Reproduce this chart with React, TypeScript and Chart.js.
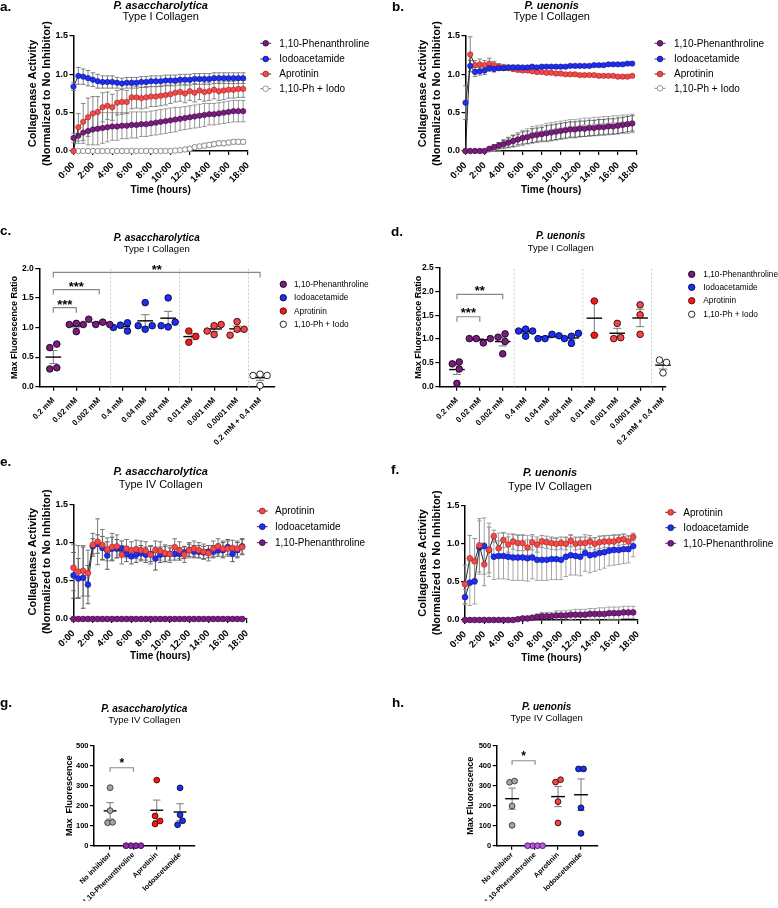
import React, { useEffect, useRef } from 'react';
import { Chart, registerables } from 'chart.js';

Chart.register(...registerables);

const FONT = '"Liberation Sans", Arial, Helvetica, sans-serif';

// ---------------- shared axis values ----------------
const timeHours = [0, 0.5, 1, 1.5, 2, 2.5, 3, 3.5, 4, 4.5, 5, 5.5, 6, 6.5, 7, 7.5, 8, 8.5, 9, 9.5, 10, 10.5, 11, 11.5, 12, 12.5, 13, 13.5, 14, 14.5, 15, 15.5, 16, 16.5, 17, 17.5];
const timeTicks = [0, 2, 4, 6, 8, 10, 12, 14, 16, 18];
const timeTickLabels = ['0:00', '2:00', '4:00', '6:00', '8:00', '10:00', '12:00', '14:00', '16:00', '18:00'];
const activityTicks = [0, 0.5, 1.0, 1.5];

// ---------------- panel a: P. asaccharolytica, type I ----------------
const aPhen = [0.17, 0.20, 0.24, 0.26, 0.28, 0.29, 0.30, 0.31, 0.32, 0.32, 0.33, 0.33,
  0.34, 0.34, 0.35, 0.35, 0.36, 0.37, 0.38, 0.39, 0.40, 0.41, 0.42, 0.43,
  0.44, 0.45, 0.46, 0.47, 0.48, 0.48, 0.49, 0.50, 0.51, 0.52, 0.52, 0.52];
const aPhenErr = [0.06, 0.10, 0.14, 0.18, 0.20, 0.21, 0.20, 0.19, 0.18, 0.18, 0.17, 0.17,
  0.17, 0.17, 0.16, 0.16, 0.16, 0.16, 0.16, 0.16, 0.16, 0.16, 0.15, 0.15,
  0.15, 0.15, 0.15, 0.15, 0.14, 0.14, 0.14, 0.14, 0.14, 0.14, 0.14, 0.14];
const aIodo = [0.84, 0.98, 0.97, 0.95, 0.93, 0.91, 0.90, 0.90, 0.90, 0.89, 0.88, 0.89,
  0.89, 0.89, 0.90, 0.90, 0.91, 0.91, 0.91, 0.92, 0.92, 0.92, 0.93, 0.93,
  0.93, 0.94, 0.94, 0.94, 0.94, 0.95, 0.95, 0.95, 0.95, 0.95, 0.95, 0.95];
const aIodoErr = [0.05, 0.11, 0.10, 0.10, 0.09, 0.09, 0.08, 0.08, 0.08, 0.07, 0.07, 0.07,
  0.07, 0.07, 0.07, 0.07, 0.07, 0.07, 0.07, 0.07, 0.07, 0.07, 0.07, 0.07,
  0.07, 0.07, 0.07, 0.07, 0.07, 0.07, 0.07, 0.07, 0.07, 0.07, 0.07, 0.07];
const aApro = [0.00, 0.31, 0.38, 0.44, 0.49, 0.51, 0.57, 0.59, 0.57, 0.63, 0.64, 0.64,
  0.70, 0.70, 0.69, 0.70, 0.71, 0.71, 0.72, 0.73, 0.74, 0.76, 0.77, 0.75,
  0.78, 0.76, 0.79, 0.77, 0.78, 0.80, 0.78, 0.79, 0.80, 0.80, 0.81, 0.81];
const aAproErr = [0.00, 0.18, 0.24, 0.25, 0.22, 0.20, 0.19, 0.18, 0.17, 0.16, 0.16, 0.15,
  0.15, 0.14, 0.14, 0.14, 0.13, 0.13, 0.13, 0.13, 0.12, 0.12, 0.12, 0.12,
  0.12, 0.12, 0.12, 0.12, 0.12, 0.12, 0.12, 0.12, 0.11, 0.11, 0.11, 0.11];
const aCombo = [0, 0, 0, 0, 0, 0, 0, 0, 0, 0, 0, 0,
  0, 0, 0, 0, 0, 0, 0, 0, 0, 0.005, 0.01, 0.02,
  0.03, 0.05, 0.06, 0.07, 0.08, 0.09, 0.10, 0.10, 0.11, 0.12, 0.12, 0.12];
const aComboErr = [0, 0, 0, 0, 0, 0, 0, 0, 0, 0, 0, 0,
  0, 0, 0, 0, 0, 0, 0, 0, 0, 0.01, 0.01, 0.01,
  0.02, 0.02, 0.02, 0.03, 0.03, 0.03, 0.03, 0.03, 0.03, 0.03, 0.03, 0.03];

// ---------------- panel b: P. uenonis, type I ----------------
const bPhen = [0, 0, 0, 0, 0, 0.03, 0.05, 0.07, 0.09, 0.11, 0.13, 0.15,
  0.17, 0.18, 0.20, 0.21, 0.22, 0.23, 0.24, 0.25, 0.26, 0.27, 0.28, 0.28,
  0.29, 0.29, 0.30, 0.30, 0.31, 0.31, 0.32, 0.32, 0.33, 0.34, 0.35, 0.36];
const bPhenErr = [0, 0, 0, 0, 0, 0.02, 0.03, 0.04, 0.05, 0.06, 0.07, 0.07,
  0.08, 0.08, 0.09, 0.09, 0.09, 0.10, 0.10, 0.10, 0.10, 0.10, 0.10, 0.10,
  0.10, 0.10, 0.10, 0.10, 0.10, 0.10, 0.10, 0.10, 0.10, 0.10, 0.10, 0.10];
const bCombo = [0, 0, 0, 0, 0, 0.02, 0.04, 0.06, 0.09, 0.11, 0.13, 0.15,
  0.17, 0.19, 0.21, 0.22, 0.23, 0.24, 0.25, 0.26, 0.27, 0.28, 0.29, 0.29,
  0.30, 0.31, 0.31, 0.32, 0.32, 0.33, 0.33, 0.34, 0.34, 0.35, 0.35, 0.36];
const bComboErr = [0, 0, 0, 0, 0, 0.02, 0.04, 0.05, 0.06, 0.07, 0.08, 0.09,
  0.10, 0.10, 0.11, 0.11, 0.11, 0.12, 0.12, 0.12, 0.12, 0.12, 0.12, 0.12,
  0.12, 0.12, 0.12, 0.12, 0.12, 0.12, 0.12, 0.12, 0.12, 0.12, 0.12, 0.12];
const bIodo = [0.63, 1.11, 1.03, 1.04, 1.05, 1.08, 1.07, 1.08, 1.08, 1.09, 1.09, 1.09,
  1.09, 1.09, 1.10, 1.09, 1.10, 1.10, 1.10, 1.10, 1.10, 1.10, 1.11, 1.11,
  1.11, 1.11, 1.11, 1.12, 1.12, 1.12, 1.13, 1.13, 1.13, 1.13, 1.14, 1.14];
const bIodoErr = [0.22, 0.07, 0.06, 0.05, 0.05, 0.04, 0.04, 0.03, 0.03, 0.03, 0.03, 0.03,
  0.02, 0.02, 0.02, 0.02, 0.02, 0.02, 0.02, 0.02, 0.02, 0.02, 0.02, 0.02,
  0.02, 0.02, 0.02, 0.02, 0.02, 0.02, 0.02, 0.02, 0.02, 0.02, 0.02, 0.02];
const bApro = [0.00, 1.26, 1.12, 1.13, 1.12, 1.14, 1.12, 1.10, 1.09, 1.08, 1.07, 1.06,
  1.05, 1.05, 1.04, 1.03, 1.03, 1.02, 1.02, 1.01, 1.01, 1.00, 1.00, 1.00,
  0.99, 0.99, 0.99, 0.99, 0.98, 0.98, 0.98, 0.98, 0.97, 0.97, 0.97, 0.98];
const bAproErr = [0.00, 0.23, 0.06, 0.07, 0.06, 0.07, 0.05, 0.04, 0.04, 0.03, 0.03, 0.03,
  0.02, 0.02, 0.02, 0.02, 0.02, 0.02, 0.02, 0.02, 0.02, 0.02, 0.02, 0.02,
  0.02, 0.02, 0.02, 0.02, 0.02, 0.02, 0.02, 0.02, 0.02, 0.02, 0.02, 0.02];

// ---------------- panel e: P. asaccharolytica, type IV ----------------
const eApro = [0.67, 0.62, 0.63, 0.60, 0.97, 1.01, 0.97, 0.91, 0.94, 0.95, 0.84, 0.92,
  0.90, 0.91, 0.90, 0.89, 0.84, 0.90, 0.89, 0.86, 0.85, 0.94, 0.90, 0.84,
  0.90, 0.92, 0.90, 0.88, 0.86, 0.92, 0.95, 0.92, 0.92, 0.93, 0.92, 0.94];
const eAproErr = [0.30, 0.34, 0.33, 0.30, 0.15, 0.30, 0.20, 0.15, 0.18, 0.15, 0.12, 0.12,
  0.11, 0.12, 0.12, 0.12, 0.12, 0.12, 0.12, 0.11, 0.11, 0.11, 0.11, 0.10,
  0.10, 0.10, 0.10, 0.10, 0.10, 0.10, 0.10, 0.10, 0.10, 0.10, 0.10, 0.10];
const eIodo = [0.57, 0.53, 0.54, 0.45, 0.95, 0.98, 0.93, 0.83, 0.92, 0.92, 0.92, 0.85,
  0.82, 0.84, 0.86, 0.84, 0.85, 0.79, 0.84, 0.85, 0.85, 0.85, 0.85, 0.87,
  0.90, 0.88, 0.88, 0.87, 0.88, 0.88, 0.90, 0.90, 0.94, 0.85, 0.90, 0.95];
const eIodoErr = [0.30, 0.26, 0.40, 0.25, 0.10, 0.12, 0.15, 0.18, 0.15, 0.12, 0.10, 0.10,
  0.10, 0.10, 0.10, 0.10, 0.10, 0.15, 0.10, 0.10, 0.08, 0.08, 0.08, 0.08,
  0.08, 0.08, 0.08, 0.08, 0.08, 0.08, 0.08, 0.10, 0.10, 0.10, 0.10, 0.10];
const ePhen = [0, 0, 0, 0, 0, 0, 0, 0, 0, 0, 0, 0,
  0, 0, 0, 0, 0, 0, 0, 0, 0, 0, 0, 0,
  0, 0, 0, 0, 0, 0, 0, 0, 0, 0, 0, 0];
const ePhenErr = [0, 0, 0, 0, 0, 0, 0, 0, 0, 0, 0, 0,
  0, 0, 0, 0, 0, 0, 0, 0, 0, 0, 0, 0,
  0, 0, 0, 0, 0, 0, 0, 0, 0, 0, 0, 0];

// ---------------- panel f: P. uenonis, type IV ----------------
const fApro = [0.47, 0.81, 0.77, 0.98, 0.73, 0.92, 1.10, 0.94, 1.05, 0.99, 1.03, 1.01,
  1.01, 0.95, 1.02, 0.99, 1.03, 1.02, 1.01, 1.00, 1.01, 1.00, 1.04, 1.00,
  1.01, 1.01, 1.03, 1.00, 1.02, 1.03, 1.03, 1.03, 1.05, 1.06, 1.03, 1.09];
const fAproErr = [0.25, 0.30, 0.30, 0.35, 0.28, 0.30, 0.08, 0.10, 0.10, 0.10, 0.10, 0.10,
  0.10, 0.10, 0.10, 0.10, 0.08, 0.08, 0.08, 0.08, 0.08, 0.08, 0.08, 0.08,
  0.08, 0.08, 0.08, 0.08, 0.08, 0.08, 0.08, 0.08, 0.07, 0.07, 0.07, 0.05];
const fIodo = [0.30, 0.49, 0.51, 0.95, 0.97, 0.92, 0.83, 0.84, 0.84, 0.83, 0.82, 0.82,
  0.82, 0.81, 0.82, 0.79, 0.79, 0.79, 0.80, 0.80, 0.79, 0.83, 0.85, 0.84,
  0.83, 0.88, 0.85, 0.86, 0.88, 0.89, 0.91, 0.92, 0.92, 0.93, 0.93, 0.97];
const fIodoErr = [0.10, 0.30, 0.30, 0.35, 0.37, 0.35, 0.30, 0.30, 0.30, 0.30, 0.30, 0.30,
  0.30, 0.30, 0.28, 0.27, 0.27, 0.27, 0.27, 0.27, 0.26, 0.26, 0.26, 0.25,
  0.25, 0.24, 0.23, 0.22, 0.22, 0.21, 0.20, 0.20, 0.19, 0.19, 0.18, 0.14];
const fPhen = [0, 0, 0, 0, 0, 0, 0, 0, 0, 0, 0, 0.01,
  0.02, 0.02, 0.03, 0.04, 0.05, 0.05, 0.05, 0.06, 0.06, 0.06, 0.07, 0.07,
  0.07, 0.07, 0.08, 0.08, 0.08, 0.08, 0.09, 0.09, 0.09, 0.10, 0.10, 0.10];
const fPhenErr = [0, 0, 0, 0, 0, 0, 0, 0, 0, 0, 0, 0.01,
  0.02, 0.03, 0.03, 0.04, 0.05, 0.05, 0.05, 0.06, 0.06, 0.06, 0.06, 0.07,
  0.07, 0.07, 0.07, 0.07, 0.08, 0.08, 0.08, 0.08, 0.08, 0.08, 0.08, 0.08];

// ---------------- panels c / d: max fluorescence ratio ----------------
const doseLabels = ['0.2 mM', '0.02 mM', '0.002 mM', '0.4 mM', '0.04 mM', '0.004 mM', '0.01 mM', '0.001 mM', '0.0001 mM', '0.2 mM + 0.4 mM'];
const ratioTicksC = [0, 0.5, 1.0, 1.5, 2.0];
const ratioTicksD = [0, 0.5, 1.0, 1.5, 2.0, 2.5];
const cRatios = [
  [0.66, 0.72, 0.30, 0.32],
  [1.07, 1.05, 0.93, 1.05],
  [1.05, 1.09, 1.14, 1.05],
  [1.04, 1.08, 0.94, 1.00],
  [1.42, 0.97, 1.03, 1.03],
  [1.50, 1.01, 1.09, 1.03],
  [0.94, 0.85, 0.75],
  [1.03, 1.05, 0.88, 0.94],
  [1.10, 0.97, 0.97, 0.87],
  [0.21, 0.19, 0.19, 0.02],
];
const dRatios = [
  [0.48, 0.52, 0.37, 0.07],
  [1.01, 0.92, 1.01, 1.01],
  [1.04, 1.11, 0.95, 0.69],
  [1.21, 1.06, 1.17, 1.17],
  [1.01, 1.10, 1.01, 1.07],
  [1.06, 0.91, 1.12, 1.01],
  [1.80, 1.08],
  [1.33, 1.01, 1.03],
  [1.72, 1.51, 1.10],
  [0.56, 0.51, 0.29],
];
const doseSeparators = [2.5, 5.5, 8.5];
const cBrackets = [
  { from: 0, to: 1, level: 1.335, label: '***' },
  { from: 0, to: 2, level: 1.64, label: '***' },
  { from: 0, to: 9, level: 1.93, label: '**' },
];
const dBrackets = [
  { from: 0, to: 1, level: 1.47, label: '***' },
  { from: 0, to: 2, level: 1.94, label: '**' },
];

// ---------------- panels g / h: max fluorescence ----------------
const inhibitorLabels = ['No inhibitor', '1,10-Phenanthroline', 'Aprotinin', 'Iodoacetamide'];
const fluorTicks = [0, 100, 200, 300, 400, 500];
const gFluor = [
  [291, 176, 115, 117],
  [0, 0, 0, 0],
  [329, 149, 109, 124],
  [290, 155, 105, 125],
];
const hFluor = [
  [318, 324, 199, 102],
  [0, 0, 0, 0],
  [319, 331, 221, 114],
  [385, 385, 190, 62],
];
const gBrackets = [{ from: 0, to: 1, level: 391, label: '*' }];
const hBrackets = [{ from: 0, to: 1, level: 426, label: '*' }];

// ---------------- styles ----------------
const PURPLE = { fill: '#7A1D7E', edge: '#3f0a42' };
const BLUE = { fill: '#1F2EF2', edge: '#0c168a' };
const RED = { fill: '#F24A4A', edge: '#a82020' };
const RED_BRIGHT = { fill: '#EC1C1C', edge: '#5a0a0a' };
const OPEN_GREY = { fill: '#FFFFFF', edge: '#8c8c8c' };
const OPEN_BLACK = { fill: '#FFFFFF', edge: '#111111' };
const GREY = { fill: '#A6A6A6', edge: '#333333' };
const VIOLET = { fill: '#8E2CA6', edge: '#3a0a48' };
const LILAC = { fill: '#B75BDB', edge: '#4a1a5a' };
const DOT_PURPLE = { fill: '#7A1D7E', edge: '#1a001c' };
const DOT_BLUE = { fill: '#1F2EF2', edge: '#05083a' };
const DOT_RED = { fill: '#F04848', edge: '#3a0505' };

const LBL_PHEN = '1,10-Phenanthroline';
const LBL_IODO = 'Iodoacetamide';
const LBL_APRO = 'Aprotinin';
const LBL_COMBO = '1,10-Ph + Iodo';

// ---------------- helpers ----------------
function paddingFor(p: any) {
  return {
    left: p.area.l - p.rect.x - p.yScaleW,
    top: p.area.t - p.rect.y,
    right: p.rect.x + p.rect.w - p.area.r,
    bottom: p.rect.y + p.rect.h - p.area.b - p.xScaleH,
  };
}

function axisStyle(tickSize: number) {
  return {
    border: { display: true, color: '#000', width: 1.5 },
    grid: { display: true, drawOnChartArea: false, drawTicks: true, tickLength: 4, color: '#000', lineWidth: 1.2 },
    ticksBase: { color: '#000', font: { family: FONT, size: tickSize, weight: 'bold' }, padding: 1.5 },
  };
}

function drawDecor(ctx: any, p: any) {
  const ox = p.rect.x;
  const oy = p.rect.y;
  ctx.save();
  ctx.fillStyle = '#000';
  ctx.textAlign = 'left';
  ctx.textBaseline = 'alphabetic';
  ctx.font = `bold 13.5px ${FONT}`;
  ctx.fillText(p.letter, p.letterPos[0] - ox, p.letterPos[1] - oy);

  ctx.textAlign = 'center';
  ctx.textBaseline = 'middle';
  ctx.font = `italic bold ${p.titleSize[0]}px ${FONT}`;
  ctx.fillText(p.title[0], p.titlePos.x - ox, p.titlePos.y1 - oy);
  ctx.font = `${p.titleSize[1]}px ${FONT}`;
  ctx.fillText(p.title[1], p.titlePos.x - ox, p.titlePos.y2 - oy);

  const L = p.legend;
  if (L) {
    L.items.forEach((it: any, k: number) => {
      const y = L.ys[k] - oy;
      const mx = L.markerX - ox;
      if (L.withLine) {
        ctx.strokeStyle = it.line || '#3a3a3a';
        ctx.lineWidth = 1;
        ctx.beginPath();
        ctx.moveTo(mx - 5.5, y);
        ctx.lineTo(mx + 5.5, y);
        ctx.stroke();
      }
      ctx.beginPath();
      ctx.arc(mx, y, L.r, 0, Math.PI * 2);
      ctx.fillStyle = it.style.fill;
      ctx.fill();
      ctx.lineWidth = 0.9;
      ctx.strokeStyle = it.style.edge;
      ctx.stroke();
      ctx.fillStyle = '#000';
      ctx.font = `${L.size}px ${FONT}`;
      ctx.textAlign = 'left';
      ctx.textBaseline = 'middle';
      ctx.fillText(it.label, L.textX - ox, y + 0.5);
    });
  }
  ctx.restore();
}

function swarmOffsets(vals: number[], pxPerUnit: number, step: number): number[] {
  const ys = vals.map((v) => v * pxPerUnit);
  const xs: number[] = [];
  ys.forEach((y) => {
    const cands = [0];
    for (let k = 1; k <= 6; k++) cands.push(k * step, -k * step);
    const pick = cands.find((c) => xs.every((x, q) => Math.hypot(x - c, ys[q] - y) >= step - 1e-6));
    xs.push(pick === undefined ? 0 : pick);
  });
  const order = ys.map((_, j) => j).sort((a, b) => ys[a] - ys[b]);
  let cluster: number[] = [];
  const flush = () => {
    if (!cluster.length) return;
    const m = cluster.reduce((s, j) => s + xs[j], 0) / cluster.length;
    cluster.forEach((j) => { xs[j] -= m; });
    cluster = [];
  };
  order.forEach((j, k) => {
    if (k > 0 && ys[j] - ys[order[k - 1]] >= step) flush();
    cluster.push(j);
  });
  flush();
  return xs;
}

function meanSem(vals: number[]) {
  const n = vals.length;
  const m = vals.reduce((a, b) => a + b, 0) / n;
  const sd = n > 1 ? Math.sqrt(vals.reduce((a, b) => a + (b - m) * (b - m), 0) / (n - 1)) : 0;
  return [m, sd / Math.sqrt(n)];
}

// ---------------- line panel builder ----------------
function buildLine(p: any) {
  const ax = axisStyle(p.xTickSize);
  const ay = axisStyle(p.yTickSize);
  const datasets = p.series.map((s: any) => ({
    label: s.label,
    data: timeHours.map((t, j) => ({ x: t, y: s.values[j] })),
    showLine: true,
    borderColor: s.line || '#2a2a2a',
    borderWidth: 1,
    pointRadius: p.pointR,
    pointBackgroundColor: s.style.fill,
    pointBorderColor: s.style.edge,
    pointBorderWidth: s.style.fill === '#FFFFFF' ? 1 : 0.6,
    clip: false,
    tension: 0,
  }));
  const errPlugin = {
    id: 'errbars' + p.key,
    beforeDatasetsDraw(chart: any) {
      const ctx = chart.ctx;
      const ys = chart.scales.y;
      const y0 = ys.getPixelForValue(0);
      ctx.save();
      for (let i = p.series.length - 1; i >= 0; i--) {
        const s = p.series[i];
        const meta = chart.getDatasetMeta(i);
        ctx.strokeStyle = s.errColor || '#777';
        ctx.lineWidth = 0.9;
        meta.data.forEach((pt: any, j: number) => {
          const e = s.errors[j];
          if (!e) return;
          const v = s.values[j];
          const top = ys.getPixelForValue(v + e);
          const bot = Math.min(ys.getPixelForValue(v - e), y0);
          const x = pt.x;
          ctx.beginPath();
          ctx.moveTo(x, top);
          ctx.lineTo(x, bot);
          ctx.moveTo(x - 2.3, top);
          ctx.lineTo(x + 2.3, top);
          if (bot < y0) {
            ctx.moveTo(x - 2.3, bot);
            ctx.lineTo(x + 2.3, bot);
          }
          ctx.stroke();
        });
      }
      ctx.restore();
    },
  };
  const decor = { id: 'decor' + p.key, afterDraw(chart: any) { drawDecor(chart.ctx, p); } };
  return {
    type: 'scatter',
    data: { datasets },
    options: {
      responsive: false,
      maintainAspectRatio: false,
      animation: false,
      devicePixelRatio: 1,
      events: [],
      layout: { padding: paddingFor(p) },
      plugins: { legend: { display: false }, tooltip: { enabled: false }, title: { display: false } },
      scales: {
        x: {
          type: 'linear',
          min: 0,
          max: 18,
          border: ax.border,
          grid: ax.grid,
          afterBuildTicks: (sc: any) => { sc.ticks = timeTicks.map((v) => ({ value: v })); },
          afterFit: (sc: any) => { sc.height = p.xScaleH; },
          ticks: { ...ax.ticksBase, padding: 5, autoSkip: false, minRotation: 45, maxRotation: 45, callback: (_v: any, i: number) => timeTickLabels[i] },
          title: { display: true, text: 'Time (hours)', color: '#000', padding: 0, font: { family: FONT, size: 10, weight: 'bold', lineHeight: 1.2 } },
        },
        y: {
          type: 'linear',
          min: 0,
          max: 1.5,
          border: ay.border,
          grid: ay.grid,
          afterBuildTicks: (sc: any) => { sc.ticks = activityTicks.map((v) => ({ value: v })); },
          afterFit: (sc: any) => { sc.width = p.yScaleW; },
          ticks: { ...ay.ticksBase, callback: (v: any) => Number(v).toFixed(1) },
          title: { display: true, text: ['Collagenase Activity', '(Normalized to No Inhibitor)'], color: '#000', padding: 0, font: { family: FONT, size: 11, weight: 'bold', lineHeight: 1.2 } },
        },
      },
    },
    plugins: [errPlugin, decor],
  };
}

// ---------------- dot panel builder ----------------
function buildDot(p: any) {
  const ax = axisStyle(p.xTickSize);
  const ay = axisStyle(p.yTickSize);
  const yMax = p.yTicks[p.yTicks.length - 1];
  const pxPerUnit = (p.area.b - p.area.t) / yMax;
  const catPx = (p.area.r - p.area.l) / (p.xMax - p.xMin);
  const datasets = p.groups.map((vals: number[], i: number) => {
    const offs = swarmOffsets(vals, pxPerUnit, p.step).map((o) => o / catPx);
    const st = p.styles[i];
    return {
      data: vals.map((v, j) => ({ x: i + offs[j], y: v })),
      showLine: false,
      pointRadius: p.pointR,
      pointBackgroundColor: st.fill,
      pointBorderColor: st.edge,
      pointBorderWidth: 0.9,
      clip: false,
    };
  });
  const statPlugin = {
    id: 'stats' + p.key,
    beforeDatasetsDraw(chart: any) {
      const ctx = chart.ctx;
      const xs = chart.scales.x;
      const ys = chart.scales.y;
      const area = chart.chartArea;
      ctx.save();
      (p.separators || []).forEach((s: number) => {
        const x = xs.getPixelForValue(s);
        ctx.strokeStyle = '#BDBDBD';
        ctx.lineWidth = 0.8;
        ctx.setLineDash([2, 2]);
        ctx.beginPath();
        ctx.moveTo(x, area.bottom);
        ctx.lineTo(x, area.top);
        ctx.stroke();
      });
      ctx.setLineDash([]);
      p.groups.forEach((vals: number[], i: number) => {
        const [m, se] = meanSem(vals);
        const ym = ys.getPixelForValue(m);
        const yt = ys.getPixelForValue(m + se);
        const yb = ys.getPixelForValue(m - se);
        const xc = xs.getPixelForValue(i);
        const half = (xs.getPixelForValue(i + p.meanW / 2) - xs.getPixelForValue(i - p.meanW / 2)) / 2;
        const cap = (xs.getPixelForValue(i + p.capW / 2) - xs.getPixelForValue(i - p.capW / 2)) / 2;
        if (se > 0) {
          ctx.strokeStyle = '#7a7a7a';
          ctx.lineWidth = 1;
          ctx.beginPath();
          ctx.moveTo(xc, yt);
          ctx.lineTo(xc, yb);
          ctx.moveTo(xc - cap, yt);
          ctx.lineTo(xc + cap, yt);
          ctx.moveTo(xc - cap, yb);
          ctx.lineTo(xc + cap, yb);
          ctx.stroke();
        }
        ctx.strokeStyle = '#000';
        ctx.lineWidth = 1.4;
        ctx.beginPath();
        ctx.moveTo(xc - half, ym);
        ctx.lineTo(xc + half, ym);
        ctx.stroke();
      });
      ctx.restore();
    },
    afterDatasetsDraw(chart: any) {
      const ctx = chart.ctx;
      const xs = chart.scales.x;
      const ys = chart.scales.y;
      ctx.save();
      p.brackets.forEach((b: any) => {
        const x1 = xs.getPixelForValue(b.from);
        const x2 = xs.getPixelForValue(b.to);
        const y = ys.getPixelForValue(b.level);
        ctx.strokeStyle = '#8a8a8a';
        ctx.lineWidth = 1.2;
        ctx.beginPath();
        ctx.moveTo(x1, y + p.bracketTick);
        ctx.lineTo(x1, y);
        ctx.lineTo(x2, y);
        ctx.lineTo(x2, y + p.bracketTick);
        ctx.stroke();
        ctx.fillStyle = '#000';
        ctx.font = `bold ${p.starSize}px ${FONT}`;
        ctx.textAlign = 'center';
        ctx.textBaseline = 'alphabetic';
        ctx.fillText(b.label, (x1 + x2) / 2, y + p.starDy);
      });
      ctx.restore();
    },
  };
  const decor = { id: 'decor' + p.key, afterDraw(chart: any) { drawDecor(chart.ctx, p); } };
  return {
    type: 'scatter',
    data: { datasets },
    options: {
      responsive: false,
      maintainAspectRatio: false,
      animation: false,
      devicePixelRatio: 1,
      events: [],
      layout: { padding: paddingFor(p) },
      plugins: { legend: { display: false }, tooltip: { enabled: false }, title: { display: false } },
      scales: {
        x: {
          type: 'linear',
          min: p.xMin,
          max: p.xMax,
          border: ax.border,
          grid: ax.grid,
          afterBuildTicks: (sc: any) => { sc.ticks = p.cats.map((_c: string, i: number) => ({ value: i })); },
          afterFit: (sc: any) => { sc.height = p.xScaleH; },
          ticks: { ...ax.ticksBase, padding: p.xTickPad, autoSkip: false, minRotation: 45, maxRotation: 45, callback: (_v: any, i: number) => p.cats[i] },
        },
        y: {
          type: 'linear',
          min: 0,
          max: yMax,
          border: ay.border,
          grid: ay.grid,
          afterBuildTicks: (sc: any) => { sc.ticks = p.yTicks.map((v: number) => ({ value: v })); },
          afterFit: (sc: any) => { sc.width = p.yScaleW; },
          ticks: { ...ay.ticksBase, callback: (v: any) => (yMax > 10 ? String(v) : Number(v).toFixed(1)) },
          title: { display: true, text: p.yTitle, color: '#000', padding: 0, font: { family: FONT, size: p.yTitleSize, weight: 'bold', lineHeight: 1.2 } },
        },
      },
    },
    plugins: [statPlugin, decor],
  };
}

// ---------------- panel specs ----------------
const lineLegend4 = [
  { label: LBL_PHEN, style: PURPLE },
  { label: LBL_IODO, style: BLUE },
  { label: LBL_APRO, style: RED },
  { label: LBL_COMBO, style: OPEN_GREY, line: '#8c8c8c' },
];
const lineLegend3 = [
  { label: LBL_APRO, style: RED },
  { label: LBL_IODO, style: BLUE },
  { label: LBL_PHEN, style: PURPLE },
];
const dotLegend = [
  { label: LBL_PHEN, style: DOT_PURPLE },
  { label: LBL_IODO, style: DOT_BLUE },
  { label: LBL_APRO, style: RED_BRIGHT },
  { label: LBL_COMBO, style: OPEN_BLACK },
];
const doseStyles = [DOT_PURPLE, DOT_PURPLE, DOT_PURPLE, DOT_BLUE, DOT_BLUE, DOT_BLUE, RED_BRIGHT, DOT_RED, DOT_RED, OPEN_BLACK];

const PANELS: any[] = [
  {
    key: 'a', kind: 'line', rect: { x: 0, y: 0, w: 390, h: 225 }, area: { l: 73.5, t: 36, r: 248, b: 151 },
    yScaleW: 46.8, xScaleH: 45, xTickSize: 9.5, yTickSize: 9, pointR: 2.7,
    letter: 'a.', letterPos: [0, 11], title: ['P. asaccharolytica', 'Type I Collagen'], titleSize: [11, 11], titlePos: { x: 160.7, y1: 5.5, y2: 17 },
    series: [
      { label: LBL_IODO, values: aIodo, errors: aIodoErr, style: BLUE, errColor: '#707070' },
      { label: LBL_APRO, values: aApro, errors: aAproErr, style: RED, errColor: '#7a7a7a' },
      { label: LBL_PHEN, values: aPhen, errors: aPhenErr, style: PURPLE, errColor: '#8a8a8a' },
      { label: LBL_COMBO, values: aCombo, errors: aComboErr, style: OPEN_GREY, errColor: '#9a9a9a', line: '#9a9a9a' },
    ],
    legend: { withLine: true, markerX: 265.7, textX: 279.3, ys: [43.3, 59, 74, 88.7], r: 2.8, size: 10, items: lineLegend4 },
  },
  {
    key: 'b', kind: 'line', rect: { x: 390, y: 0, w: 388, h: 225 }, area: { l: 465.5, t: 36, r: 637, b: 151 },
    yScaleW: 48.8, xScaleH: 45, xTickSize: 9.5, yTickSize: 9, pointR: 2.7,
    letter: 'b.', letterPos: [392, 11], title: ['P. uenonis', 'Type I Collagen'], titleSize: [11, 11], titlePos: { x: 551.7, y1: 5.5, y2: 17 },
    series: [
      { label: LBL_PHEN, values: bPhen, errors: bPhenErr, style: PURPLE, errColor: '#555555' },
      { label: LBL_IODO, values: bIodo, errors: bIodoErr, style: BLUE, errColor: '#707070' },
      { label: LBL_APRO, values: bApro, errors: bAproErr, style: RED, errColor: '#7a7a7a' },
      { label: LBL_COMBO, values: bCombo, errors: bComboErr, style: OPEN_GREY, errColor: '#a0a0a0', line: '#9a9a9a' },
    ],
    legend: { withLine: true, markerX: 660, textX: 674, ys: [43.3, 59, 74, 88.3], r: 2.8, size: 10, items: lineLegend4 },
  },
  {
    key: 'c', kind: 'dot', rect: { x: 0, y: 225, w: 390, h: 230 }, area: { l: 39.3, t: 268.3, r: 275, b: 386.7 },
    yScaleW: 29.7, xScaleH: 60, xTickSize: 8, xTickPad: 5, yTickSize: 8.5, pointR: 3.3, step: 7,
    xMin: -0.61, xMax: 9.65, yTicks: ratioTicksC, cats: doseLabels, groups: cRatios, styles: doseStyles,
    meanW: 0.68, capW: 0.36, separators: doseSeparators, brackets: cBrackets, bracketTick: 5, starSize: 13, starDy: 1.5,
    yTitle: 'Max Fluorescence Ratio', yTitleSize: 9,
    letter: 'c.', letterPos: [0, 235], title: ['P. asaccharolytica', 'Type I Collagen'], titleSize: [10, 9.5], titlePos: { x: 156.7, y1: 238.3, y2: 249.5 },
    legend: { withLine: false, markerX: 283.3, textX: 294, ys: [284.3, 297.7, 311, 324.3], r: 3.2, size: 8.3, items: dotLegend },
  },
  {
    key: 'd', kind: 'dot', rect: { x: 390, y: 225, w: 388, h: 230 }, area: { l: 439.3, t: 267.7, r: 666, b: 386.7 },
    yScaleW: 26.4, xScaleH: 60, xTickSize: 8, xTickPad: 5, yTickSize: 8.5, pointR: 3.3, step: 7,
    xMin: -0.77, xMax: 9.13, yTicks: ratioTicksD, cats: doseLabels, groups: dRatios, styles: doseStyles,
    meanW: 0.68, capW: 0.36, separators: doseSeparators, brackets: dBrackets, bracketTick: 5, starSize: 13, starDy: 0.5,
    yTitle: 'Max Fluorescence Ratio', yTitleSize: 9,
    letter: 'd.', letterPos: [391, 236], title: ['P. uenonis', 'Type I Collagen'], titleSize: [10, 9.5], titlePos: { x: 560.7, y1: 236.3, y2: 248.3 },
    legend: { withLine: false, markerX: 691.7, textX: 703.3, ys: [274.3, 287.3, 300.7, 314.3], r: 3.2, size: 8.3, items: dotLegend },
  },
  {
    key: 'e', kind: 'line', rect: { x: 0, y: 455, w: 390, h: 235 }, area: { l: 73.5, t: 504.3, r: 247, b: 619 },
    yScaleW: 46.8, xScaleH: 43.7, xTickSize: 9.5, yTickSize: 9, pointR: 2.9,
    letter: 'e.', letterPos: [0, 466], title: ['P. asaccharolytica', 'Type IV Collagen'], titleSize: [11, 11], titlePos: { x: 160.7, y1: 472.3, y2: 485 },
    series: [
      { label: LBL_APRO, values: eApro, errors: eAproErr, style: RED, errColor: '#6a6a6a' },
      { label: LBL_IODO, values: eIodo, errors: eIodoErr, style: BLUE, errColor: '#4a4a4a' },
      { label: LBL_PHEN, values: ePhen, errors: ePhenErr, style: PURPLE, errColor: '#555555' },
    ],
    legend: { withLine: true, markerX: 262.3, textX: 275, ys: [511, 526.7, 542.7], r: 2.9, size: 10, items: lineLegend3 },
  },
  {
    key: 'f', kind: 'line', rect: { x: 390, y: 455, w: 388, h: 235 }, area: { l: 465, t: 505.7, r: 638, b: 620 },
    yScaleW: 48.3, xScaleH: 44, xTickSize: 9.5, yTickSize: 9, pointR: 2.9,
    letter: 'f.', letterPos: [391, 474], title: ['P. uenonis', 'Type IV Collagen'], titleSize: [11, 11], titlePos: { x: 550, y1: 473.3, y2: 486.7 },
    series: [
      { label: LBL_APRO, values: fApro, errors: fAproErr, style: RED, errColor: '#8a8a8a' },
      { label: LBL_IODO, values: fIodo, errors: fIodoErr, style: BLUE, errColor: '#9a9a9a' },
      { label: LBL_PHEN, values: fPhen, errors: fPhenErr, style: PURPLE, errColor: '#9a9a9a' },
    ],
    legend: { withLine: true, markerX: 670.7, textX: 683.3, ys: [512.3, 527.7, 543.3], r: 2.9, size: 10, items: lineLegend3 },
  },
  {
    key: 'g', kind: 'dot', rect: { x: 0, y: 690, w: 390, h: 218 }, area: { l: 94, t: 746, r: 195, b: 845.7 },
    yScaleW: 30.1, xScaleH: 55, xTickSize: 7.3, xTickPad: 1, yTickSize: 7.5, pointR: 2.9, step: 5,
    xMin: -0.69, xMax: 3.64, yTicks: fluorTicks, cats: inhibitorLabels, groups: gFluor, styles: [GREY, VIOLET, { fill: '#FF1212', edge: '#4a0000' }, DOT_BLUE],
    meanW: 0.55, capW: 0.32, separators: [], brackets: gBrackets, bracketTick: 4, starSize: 12, starDy: -0.5,
    yTitle: 'Max  Fluorescence', yTitleSize: 9,
    letter: 'g.', letterPos: [0, 707], title: ['P. asaccharolytica', 'Type IV Collagen'], titleSize: [10, 9.5], titlePos: { x: 144.3, y1: 709, y2: 720 },
    legend: null,
  },
  {
    key: 'h', kind: 'dot', rect: { x: 390, y: 690, w: 388, h: 218 }, area: { l: 496.7, t: 746, r: 598, b: 845.7 },
    yScaleW: 31.1, xScaleH: 55, xTickSize: 7.3, xTickPad: 1, yTickSize: 7.5, pointR: 2.9, step: 5,
    xMin: -0.67, xMax: 3.74, yTicks: fluorTicks, cats: inhibitorLabels, groups: hFluor, styles: [GREY, LILAC, DOT_RED, DOT_BLUE],
    meanW: 0.6, capW: 0.32, separators: [], brackets: hBrackets, bracketTick: 4, starSize: 12, starDy: -0.5,
    yTitle: 'Max Fluorescence', yTitleSize: 9,
    letter: 'h.', letterPos: [392, 707], title: ['P. uenonis', 'Type IV Collagen'], titleSize: [10, 9.5], titlePos: { x: 546.7, y1: 707.3, y2: 718.3 },
    legend: null,
  },
];

function PanelCanvas({ panel }: { panel: any }) {
  const ref = useRef<HTMLCanvasElement | null>(null);
  useEffect(() => {
    if (!ref.current) return;
    const cfg: any = panel.kind === 'line' ? buildLine(panel) : buildDot(panel);
    const chart = new Chart(ref.current, cfg);
    return () => chart.destroy();
  }, [panel]);
  const { x, y, w, h } = panel.rect;
  return (
    <canvas
      ref={ref}
      width={w}
      height={h}
      style={{ position: 'absolute', left: x, top: y, width: w, height: h, display: 'block' }}
    />
  );
}

export default function App() {
  return (
    <div style={{ position: 'absolute', left: 0, top: 0, width: 778, height: 908, background: '#ffffff', overflow: 'hidden' }}>
      {PANELS.map((p) => (
        <PanelCanvas key={p.key} panel={p} />
      ))}
    </div>
  );
}
